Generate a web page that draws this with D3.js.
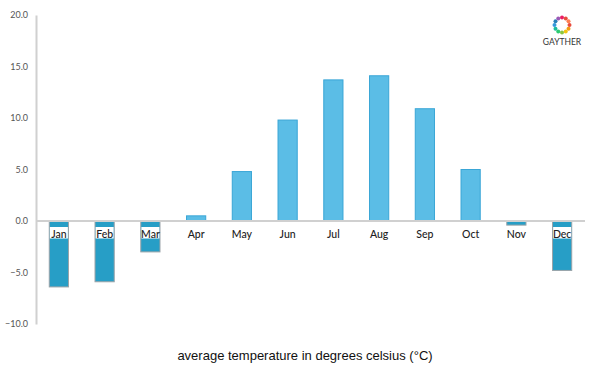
<!DOCTYPE html>
<html><head><meta charset="utf-8">
<script src="https://cdn.jsdelivr.net/npm/d3@7"></script>
<style>body{margin:0;background:#fff}svg{display:block}</style>
</head><body>
<svg id="c" width="600" height="375"></svg>
<script>
const months = ["Jan","Feb","Mar","Apr","May","Jun","Jul","Aug","Sep","Oct","Nov","Dec"];
const temps = [-6.4,-5.9,-3.0,0.5,4.8,9.8,13.7,14.1,10.9,5.0,-0.4,-4.8];
const yTicks = [-10,-5,0,5,10,15,20];
const axisTitle = "average temperature in degrees celsius (°C)";
const logoText = "GAYTHER";
const logoColors = ["#e84c3d","#f39c12","#f1c40f","#8cc63f","#2ecc71","#1abc9c","#3498db","#2980b9","#9b59b6","#e91e63","#e74c3c","#ff7f50"];

const svg = d3.select("#c");
const x = d3.scaleBand().domain(months).range([36,585]).paddingInner(0.58).paddingOuter(0.29);
const y = d3.scaleLinear().domain([-10,20]).range([324,15]);

// y axis
const ya = svg.append("g").attr("transform","translate(36,0)")
  .call(d3.axisLeft(y).tickValues(yTicks).tickSize(0).tickPadding(8).tickFormat(d3.format(".1f")));
ya.select(".domain").attr("stroke","#d0d0d0").attr("stroke-width",2);
ya.selectAll("text").attr("font-family","Lato, sans-serif").attr("font-size",9).attr("fill","#555");

// bars
svg.append("g").selectAll("rect").data(temps).join("rect")
  .attr("x",(d,i)=>x(months[i]))
  .attr("width",x.bandwidth())
  .attr("y",d=>y(Math.max(0,d)))
  .attr("height",d=>Math.abs(y(d)-y(0)))
  .attr("fill",d=>d>=0?"#5bbde6":"#279ec6")
  .attr("stroke",d=>d>=0?"#3aa6d6":"#9aa3a8")
  .attr("stroke-width",1);

// zero line
svg.append("line").attr("x1",36).attr("x2",585).attr("y1",y(0)).attr("y2",y(0))
  .attr("stroke","#d0d0d0").attr("stroke-width",2);

// month labels
const lab = svg.append("g").selectAll("g").data(months).join("g")
  .attr("transform",m=>`translate(${x(m)+x.bandwidth()/2},${y(0)+16.5})`);
lab.each(function(m,i){
  const g = d3.select(this);
  if (temps[i] < -1) {
    g.append("rect").attr("x",-9).attr("y",-10.5).attr("width",18).attr("height",11.5).attr("fill","#fff");
  }
  g.append("text").attr("text-anchor","middle").attr("font-family","Lato, sans-serif")
    .attr("font-size",10.5).attr("font-weight",500).attr("fill","#222").text(m);
});

// axis title
svg.append("text").attr("x",305).attr("y",360).attr("text-anchor","middle")
  .attr("font-family","Liberation Sans, Arial, sans-serif").attr("font-size",13).attr("fill","#111").text(axisTitle);

// logo
const lg = svg.append("g").attr("transform","translate(562,25)");
logoColors.forEach((c,i)=>{
  const a = i/logoColors.length*2*Math.PI;
  lg.append("circle").attr("cx",7.5*Math.cos(a)).attr("cy",7.5*Math.sin(a)).attr("r",2).attr("fill",c);
});
svg.append("text").attr("x",562).attr("y",45).attr("text-anchor","middle")
  .attr("font-family","Lato, sans-serif").attr("font-size",8.5).attr("fill","#333").text(logoText);
</script>
</body></html>
